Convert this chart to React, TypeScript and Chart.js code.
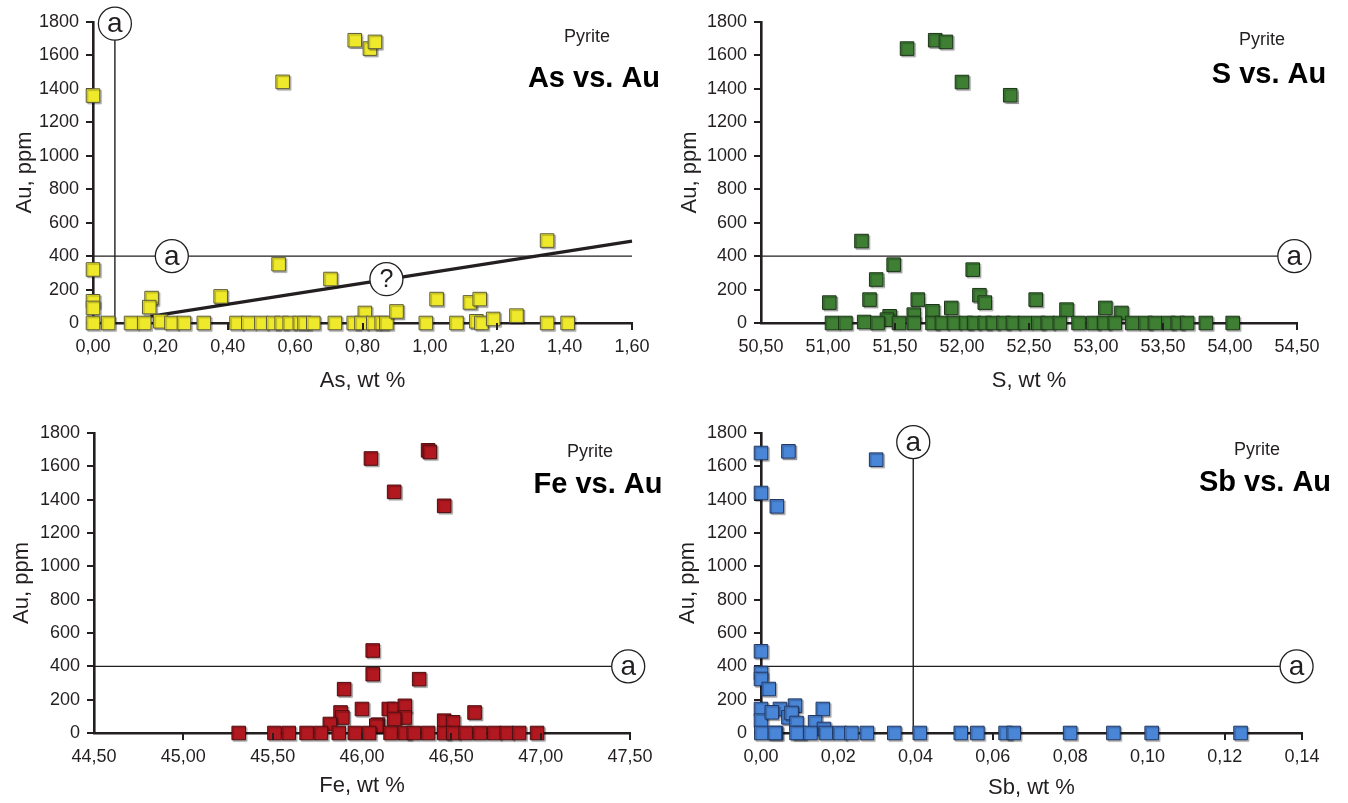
import React, { useEffect, useRef } from "react";
import { Chart, registerables } from "chart.js";

Chart.register(...registerables);

const FONT = "'Liberation Sans', Arial, Helvetica, sans-serif";
const INK = "#231f20";

// ---------- Data: As vs Au ----------
const asWt = [0, 0, 0, 0, 0, 0.045, 0.113, 0.152, 0.174, 0.167, 0.2, 0.233, 0.27, 0.329, 0.379, 0.426, 0.461, 0.5, 0.535, 0.56, 0.584, 0.614, 0.628, 0.654, 0.563, 0.551, 0.705, 0.718, 0.774, 0.807, 0.777, 0.822, 0.837, 0.797, 0.832, 0.857, 0.871, 0.901, 0.988, 1.02, 1.079, 1.119, 1.138, 1.148, 1.153, 1.188, 1.257, 1.348, 1.348, 1.409];
const asAu = [1360, 320, 130, 90, 0, 0, 0, 0, 149, 95, 10, 0, 0, 0, 159, 0, 0, 0, 0, 0, 0, 0, 0, 0, 1442, 352, 263, 0, 0, 60, 1691, 1641, 1681, 0, 0, 0, 0, 69, 0, 143, 0, 123, 10, 143, 0, 24, 44, 0, 493, 0];
const asTrendWt = [0.17, 1.6];
const asTrendAu = [40, 490];

// ---------- Data: S vs Au ----------
const sWt = [51.59, 51.8, 51.88, 52.0, 52.36, 51.25, 51.49, 51.36, 51.01, 51.31, 51.67, 52.08, 52.13, 52.17, 51.92, 51.78, 51.64, 51.46, 51.44, 51.27, 52.55, 52.78, 53.07, 53.19,
  51.03, 51.13, 51.37, 51.53, 51.64, 51.78, 51.85, 51.94, 52.03, 52.09, 52.17, 52.23, 52.31, 52.38, 52.47, 52.57, 52.64, 52.73, 52.87, 52.98, 53.06, 53.14, 53.27, 53.37, 53.44, 53.54, 53.61, 53.68, 53.82, 54.02];
const sAu = [1641, 1691, 1681, 1441, 1362, 490, 349, 260, 122, 140, 140, 319, 166, 122, 90, 70, 50, 40, 20, 6, 140, 80, 90, 60,
  0, 0, 0, 0, 0, 0, 0, 0, 0, 0, 0, 0, 0, 0, 0, 0, 0, 0, 0, 0, 0, 0, 0, 0, 0, 0, 0, 0, 0, 0];

// ---------- Data: Fe vs Au ----------
const feWt = [46.05, 46.37, 46.38, 46.18, 46.46, 46.06, 46.06, 46.32, 45.9, 46.0, 46.15, 46.18, 46.24, 46.24, 46.18, 46.63, 46.46, 46.51, 46.09, 45.88, 45.89, 45.82, 46.08,
  45.31, 45.51, 45.59, 45.69, 45.77, 45.87, 45.96, 46.04, 46.16, 46.24, 46.29, 46.37, 46.46, 46.51, 46.58, 46.66, 46.74, 46.81, 46.88, 46.98];
const feAu = [1647, 1696, 1686, 1447, 1363, 495, 353, 323, 263, 144, 144, 144, 163, 93, 84, 123, 74, 64, 50, 123, 93, 54, 44,
  0, 0, 0, 0, 0, 0, 0, 0, 0, 0, 0, 0, 0, 0, 0, 0, 0, 0, 0, 0];

// ---------- Data: Sb vs Au ----------
const sbWt = [0, 0.0071, 0.0298, 0, 0.0041, 0, 0, 0, 0.002, 0, 0, 0.0049, 0.0088, 0.0071, 0.0079, 0.0092, 0.016, 0.014, 0.0163, 0.0028, 0.0039, 0.01,
  0.0001, 0.0036, 0.0092, 0.0128, 0.0168, 0.0204, 0.0234, 0.0274, 0.0345, 0.0411, 0.0517, 0.056, 0.0633, 0.0654, 0.08, 0.0912, 0.1011, 0.1241];
const sbAu = [1680, 1690, 1640, 1440, 1360, 490, 360, 324, 264, 144, 74, 144, 164, 94, 120, 60, 144, 64, 24, 124, 0, 0,
  0, 0, 0, 0, 0, 0, 0, 0, 0, 0, 0, 0, 0, 0, 0, 0, 0, 0];

// threshold lines
const auThreshold = 400;
const asThreshold = 0.065;
const sbThreshold = 0.0394;

type Panel = {
  key: string;
  left: number; top: number; w: number; h: number;
  yWidth: number; padRight: number; padTop: number; xHeight: number;
  xs: number[]; ys: number[];
  color: string; edge: string;
  xMin: number; xMax: number; xStep: number;
  xTitle: string; title: string;
  titlePos: [number, number, number, number];
  yTitlePad: number; xTitlePad: number;
  tickMarks: number[];
  hEnd: number; hLabelAt: number;
  vLine?: { value: number; top: number };
  trend?: { xs: number[]; ys: number[]; qx: number; qy: number };
};

const panels: Panel[] = [
  {
    key: "as", left: 0, top: 0, w: 674, h: 400, yWidth: 93, padRight: 42, padTop: 22, xHeight: 77,
    xs: asWt, ys: asAu, color: "#efe92b", edge: "#5b5a3a",
    xMin: 0, xMax: 1.6, xStep: 0.2, xTitle: "As, wt %", title: "As vs. Au",
    titlePos: [587, 37, 594, 79], yTitlePad: 12, xTitlePad: 6,
    tickMarks: [0.4, 0.8, 1.2, 1.6],
    hEnd: 1.6, hLabelAt: 0.234,
    vLine: { value: asThreshold, top: 1790 },
    trend: { xs: asTrendWt, ys: asTrendAu, qx: 0.871, qy: 262 },
  },
  {
    key: "s", left: 674, top: 0, w: 674, h: 400, yWidth: 87, padRight: 51, padTop: 22, xHeight: 77,
    xs: sWt, ys: sAu, color: "#3e7f34", edge: "#1c3518",
    xMin: 50.5, xMax: 54.5, xStep: 0.5, xTitle: "S, wt %", title: "S vs. Au",
    titlePos: [1262, 40, 1269, 75], yTitlePad: 3, xTitlePad: 6,
    tickMarks: [51.5, 52.5, 53.5, 54.5],
    hEnd: 54.48, hLabelAt: 54.48,
  },
  {
    key: "fe", left: 0, top: 400, w: 674, h: 403, yWidth: 94, padRight: 44, padTop: 33, xHeight: 70,
    xs: feWt, ys: feAu, color: "#b2181f", edge: "#4a0e10",
    xMin: 44.5, xMax: 47.5, xStep: 0.5, xTitle: "Fe, wt %", title: "Fe vs. Au",
    titlePos: [590, 452, 598, 485], yTitlePad: 9, xTitlePad: 4,
    tickMarks: [45, 45.5, 46, 46.5, 47, 47.5],
    hEnd: 47.49, hLabelAt: 47.49,
  },
  {
    key: "sb", left: 674, top: 400, w: 674, h: 403, yWidth: 87, padRight: 46, padTop: 33, xHeight: 70,
    xs: sbWt, ys: sbAu, color: "#4a86d8", edge: "#1f3560",
    xMin: 0, xMax: 0.14, xStep: 0.02, xTitle: "Sb, wt %", title: "Sb vs. Au",
    titlePos: [1257, 450, 1265, 483], yTitlePad: 1, xTitlePad: 2,
    tickMarks: [0.06, 0.12, 0.14],
    hEnd: 0.1386, hLabelAt: 0.1386,
    vLine: { value: sbThreshold, top: 1745 },
  },
];

function circleLabel(ctx: CanvasRenderingContext2D, x: number, y: number, text: string, size: number) {
  ctx.save();
  ctx.beginPath();
  ctx.arc(x, y, 16.5, 0, Math.PI * 2);
  ctx.fillStyle = "#ffffff";
  ctx.fill();
  ctx.lineWidth = 1.3;
  ctx.strokeStyle = INK;
  ctx.stroke();
  ctx.fillStyle = INK;
  ctx.font = `${size}px ${FONT}`;
  ctx.textAlign = "center";
  ctx.textBaseline = "middle";
  ctx.fillText(text, x, y + 1);
  ctx.restore();
}

function annotations(p: Panel) {
  return {
    id: "annot_" + p.key,
    beforeDatasetsDraw(chart: any) {
      const { ctx, scales } = chart;
      const xs = scales.x, ys = scales.y;
      ctx.save();
      ctx.strokeStyle = INK;
      ctx.lineWidth = 1.4;
      const yy = ys.getPixelForValue(auThreshold);
      ctx.beginPath();
      ctx.moveTo(xs.getPixelForValue(p.xMin), yy);
      ctx.lineTo(xs.getPixelForValue(p.hEnd), yy);
      ctx.stroke();
      if (p.vLine) {
        const vx = xs.getPixelForValue(p.vLine.value);
        ctx.beginPath();
        ctx.moveTo(vx, ys.getPixelForValue(0));
        ctx.lineTo(vx, ys.getPixelForValue(p.vLine.top));
        ctx.stroke();
      }
      ctx.restore();
    },
    beforeDatasetDraw(chart: any, args: any) {
      if (args.index === 0) {
        const ctx = chart.ctx;
        ctx.save();
        ctx.shadowColor = "rgba(0,0,0,0.28)";
        ctx.shadowOffsetX = 1.5;
        ctx.shadowOffsetY = 1.5;
        ctx.shadowBlur = 1;
      }
    },
    afterDatasetDraw(chart: any, args: any) {
      if (args.index === 0) chart.ctx.restore();
    },
    afterDatasetsDraw(chart: any) {
      const { ctx, scales } = chart;
      const xs = scales.x, ys = scales.y;
      // x tick marks
      ctx.save();
      ctx.strokeStyle = INK;
      ctx.lineWidth = 2;
      const by = ys.getPixelForValue(0);
      p.tickMarks.forEach((v) => {
        const tx = Math.round(xs.getPixelForValue(v));
        ctx.beginPath();
        ctx.moveTo(tx, by);
        ctx.lineTo(tx, by + 7);
        ctx.stroke();
      });
      ctx.restore();
      circleLabel(ctx, xs.getPixelForValue(p.hLabelAt), ys.getPixelForValue(auThreshold), "a", 28);
      if (p.vLine) {
        circleLabel(ctx, xs.getPixelForValue(p.vLine.value), ys.getPixelForValue(p.vLine.top), "a", 28);
      }
      if (p.trend) {
        circleLabel(ctx, xs.getPixelForValue(p.trend.qx), ys.getPixelForValue(p.trend.qy), "?", 25);
      }
      // titles
      ctx.save();
      ctx.fillStyle = INK;
      ctx.textAlign = "center";
      ctx.textBaseline = "middle";
      ctx.font = `18px ${FONT}`;
      ctx.fillText("Pyrite", p.titlePos[0] - p.left, p.titlePos[1] - p.top);
      ctx.fillStyle = "#000";
      ctx.font = `bold 29px ${FONT}`;
      ctx.fillText(p.title, p.titlePos[2] - p.left, p.titlePos[3] - p.top);
      ctx.restore();
    },
  };
}

function fmtX(v: any) {
  return Number(v).toFixed(2).replace(".", ",");
}

function PanelChart({ p }: { p: Panel }) {
  const ref = useRef<HTMLCanvasElement | null>(null);
  useEffect(() => {
    if (!ref.current) return;
    const datasets: any[] = [
      {
        type: "scatter",
        data: p.xs.map((x, i) => ({ x, y: p.ys[i] })),
        pointStyle: "rect",
        pointRadius: 9.6,
        pointHoverRadius: 9.6,
        backgroundColor: p.color,
        borderColor: p.edge,
        borderWidth: 1,
        clip: false,
        order: 0,
      },
    ];
    if (p.trend) {
      datasets.push({
        type: "line",
        data: p.trend.xs.map((x, i) => ({ x, y: p.trend!.ys[i] })),
        borderColor: INK,
        borderWidth: 3.2,
        pointRadius: 0,
        showLine: true,
        fill: false,
        clip: false,
        order: 1,
      });
    }
    const chart = new Chart(ref.current, {
      type: "scatter",
      data: { datasets },
      options: {
        animation: false,
        responsive: false,
        maintainAspectRatio: false,
        devicePixelRatio: 1,
        events: [],
        layout: { padding: { left: 0, top: p.padTop, right: p.padRight, bottom: 0 } },
        plugins: { legend: { display: false }, tooltip: { enabled: false } },
        scales: {
          x: {
            type: "linear",
            min: p.xMin,
            max: p.xMax,
            afterFit: (s: any) => { s.height = p.xHeight; },
            ticks: {
              stepSize: p.xStep,
              autoSkip: false,
              maxRotation: 0,
              padding: 13,
              color: INK,
              font: { family: FONT, size: 18 },
              callback: (v: any) => fmtX(v),
            },
            grid: { display: false, drawTicks: false },
            border: { display: true, color: INK, width: 2.6 },
            title: {
              display: true,
              text: p.xTitle,
              color: INK,
              font: { family: FONT, size: 22 },
              padding: { top: 0, bottom: p.xTitlePad },
            },
          },
          y: {
            type: "linear",
            min: 0,
            max: 1800,
            afterFit: (s: any) => { s.width = p.yWidth; },
            ticks: {
              stepSize: 200,
              padding: 7,
              color: INK,
              font: { family: FONT, size: 18 },
              callback: (v: any) => String(Math.round(Number(v))),
            },
            grid: { drawOnChartArea: false, drawTicks: true, tickLength: 7, color: INK, lineWidth: 2 },
            border: { display: true, color: INK, width: 2.6 },
            title: {
              display: true,
              text: "Au, ppm",
              color: INK,
              font: { family: FONT, size: 22 },
              padding: { top: p.yTitlePad, bottom: 0 },
            },
          },
        },
      },
      plugins: [annotations(p)],
    } as any);
    return () => chart.destroy();
  }, [p]);
  return (
    <canvas
      ref={ref}
      width={p.w}
      height={p.h}
      style={{ position: "absolute", left: p.left, top: p.top, width: p.w, height: p.h, display: "block" }}
    />
  );
}

export default function App() {
  return (
    <div style={{ position: "absolute", left: 0, top: 0, width: 1348, height: 803, background: "#fff", overflow: "hidden" }}>
      {panels.map((p) => (
        <PanelChart key={p.key} p={p} />
      ))}
    </div>
  );
}
